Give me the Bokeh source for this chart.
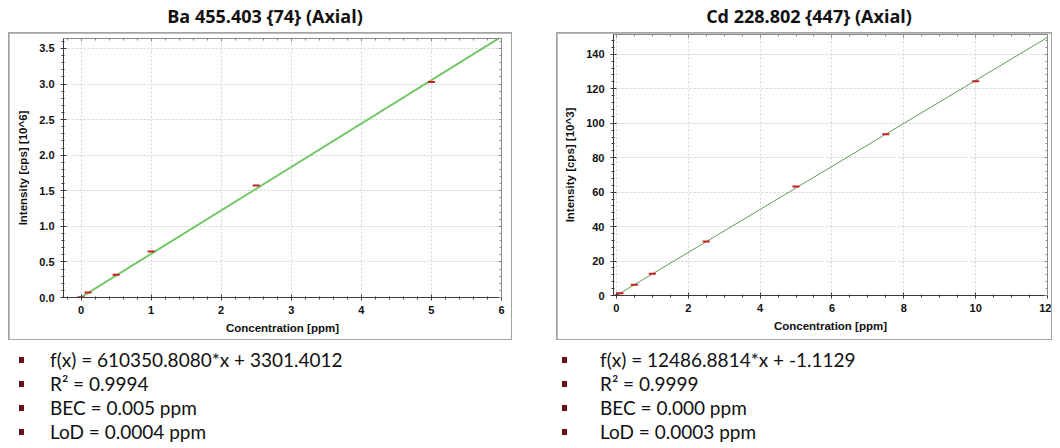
from bokeh.plotting import figure
from bokeh.models import (LinearAxis, Div, CustomJSTickFormatter, NumeralTickFormatter,
                          SingleIntervalTicker, Range1d, Spacer)
from bokeh.layouts import row, column
from bokeh.embed import file_html
from bokeh.resources import INLINE

# ---------------- data ----------------
ba_title = "Ba 455.403 {74} (Axial)"
ba_conc = [0.0, 0.1, 0.5, 1.0, 2.5, 5.0]
ba_int = [0.003, 0.07, 0.32, 0.645, 1.575, 3.03]          # x10^6 cps
ba_fit_x = [0.0, 6.0]
ba_fit_y = [0.0033, 3.6654]
ba_ylabel = "Intensity [cps] [10^6]"
ba_stats = ["f(x) = 610350.8080*x + 3301.4012", "R\u00b2 = 0.9994",
            "BEC = 0.005 ppm", "LoD = 0.0004 ppm"]

cd_title = "Cd 228.802 {447} (Axial)"
cd_conc = [0.0, 0.1, 0.5, 1.0, 2.5, 5.0, 7.5, 10.0]
cd_int = [0.0, 1.3, 6.3, 12.6, 31.3, 63.2, 93.6, 124.3]   # x10^3 cps
cd_fit_x = [0.0, 12.0]
cd_fit_y = [-0.0011, 149.84]
cd_ylabel = "Intensity [cps] [10^3]"
cd_stats = ["f(x) = 12486.8814*x + -1.1129", "R\u00b2 = 0.9999",
            "BEC = 0.000 ppm", "LoD = 0.0003 ppm"]

xlabel = "Concentration [ppm]"

FONT = "Liberation Sans"
TXT_FONT = "Lato"


def make_plot(xs, ys, fx, fy, ylabel, xr, yr, xint, xminor, yint, yminor,
              width, borders, line_color, line_width, yfmt):
    left, right, top, bottom = borders
    h = 306
    p = figure(width=width, height=h, output_backend="svg", toolbar_location=None,
               x_range=Range1d(*xr), y_range=Range1d(*yr),
               min_border_left=left, min_border_right=right,
               min_border_top=top, min_border_bottom=bottom,
               x_axis_label=xlabel, y_axis_label=ylabel)
    xt = SingleIntervalTicker(interval=xint, num_minor_ticks=xminor)
    yt = SingleIntervalTicker(interval=yint, num_minor_ticks=yminor)
    p.xaxis.ticker = xt
    p.yaxis.ticker = yt
    if yfmt:
        p.yaxis.formatter = NumeralTickFormatter(format=yfmt)
    p.xgrid.ticker = xt
    p.ygrid.ticker = yt
    for g in (p.xgrid, p.ygrid):
        g.grid_line_color = "#d3d3d3"
        g.grid_line_dash = "2 2"
        g.grid_line_width = 1
    for ax in (p.xaxis, p.yaxis):
        ax.axis_line_color = "#3a3a3a"
        ax.major_tick_line_color = "#3a3a3a"
        ax.minor_tick_line_color = "#3a3a3a"
        ax.major_tick_in = 3
        ax.major_tick_out = 3
        ax.minor_tick_in = 1
        ax.minor_tick_out = 2
        ax.major_label_text_font = FONT
        ax.major_label_text_font_size = "11px"
        ax.major_label_text_font_style = "bold"
        ax.major_label_text_color = "#111111"
        ax.axis_label_text_font = FONT
        ax.axis_label_text_font_size = "11.5px"
        ax.axis_label_text_font_style = "bold"
        ax.axis_label_text_color = "#111111"
    p.xaxis.major_label_standoff = 5
    p.xaxis.axis_label_standoff = 5
    p.yaxis.major_label_standoff = 6
    p.yaxis.axis_label_standoff = 7
    # mirrored axes (ticks only)
    for side, tk in (("right", yt), ("above", xt)):
        ax = LinearAxis(ticker=tk, formatter=CustomJSTickFormatter(code="return ''"))
        ax.axis_line_color = "#8a8a8a"
        ax.major_tick_line_color = "#8a8a8a"
        ax.minor_tick_line_color = "#8a8a8a"
        ax.major_tick_in = 3
        ax.major_tick_out = 0
        ax.minor_tick_in = 2
        ax.minor_tick_out = 0
        ax.major_label_standoff = 0
        p.add_layout(ax, side)
    p.outline_line_color = None
    p.margin = (1, 1, 1, 1)
    p.line(fx, fy, line_color=line_color, line_width=line_width)
    p.scatter(xs, ys, marker="dash", size=7, line_color="#c8201e", line_width=2)
    # gray 1px box around the chart: gray background showing through the margin
    box = column(p, width=width + 2, height=h + 2,
                 styles={"background-color": "#a4a4a4"})
    return box


def title_div(text, width):
    return Div(text=text, width=width, height=22,
               styles={"text-align": "center", "font-family": "Open Sans",
                       "font-weight": "bold", "font-size": "18px",
                       "color": "#111111", "line-height": "22px"})


def stats_div(lines, width, bullet_left, text_left):
    html = ""
    for ln in lines:
        html += ('<div style="display:flex;align-items:center;height:24px;">'
                 f'<span style="display:inline-block;width:5px;height:6px;background:#6b1111;'
                 f'margin-left:{bullet_left}px;margin-right:{text_left - bullet_left - 5}px;"></span>'
                 f'<span>{ln}</span></div>')
    return Div(text=html, width=width, height=100,
               styles={"font-family": TXT_FONT, "font-size": "19px", "color": "#111111",
                       "padding-top": "3px"})


b1 = make_plot(ba_conc, ba_int, ba_fit_x, ba_fit_y, ba_ylabel,
               (-0.25, 6.0), (0.0, 3.64), 1, 5, 0.5, 5,
               502, (54, 10, 5, 42), "#72c866", 2, "0.0")
b2 = make_plot(cd_conc, cd_int, cd_fit_x, cd_fit_y, cd_ylabel,
               (-0.08, 12.0), (0.0, 151.5), 2, 4, 20, 5,
               494, (56, 4, 1, 44), "#5f9a58", 1, None)

left = column(title_div(ba_title, 504), b1, stats_div(ba_stats, 504, 6, 37),
              spacing=0, width=504)
right = column(title_div(cd_title, 496), b2, stats_div(cd_stats, 496, 1, 39),
               spacing=0, width=496)
layout = row(Spacer(width=8), row(left, right, spacing=44), spacing=0)

open("out.html", "w").write(file_html(layout, INLINE))
